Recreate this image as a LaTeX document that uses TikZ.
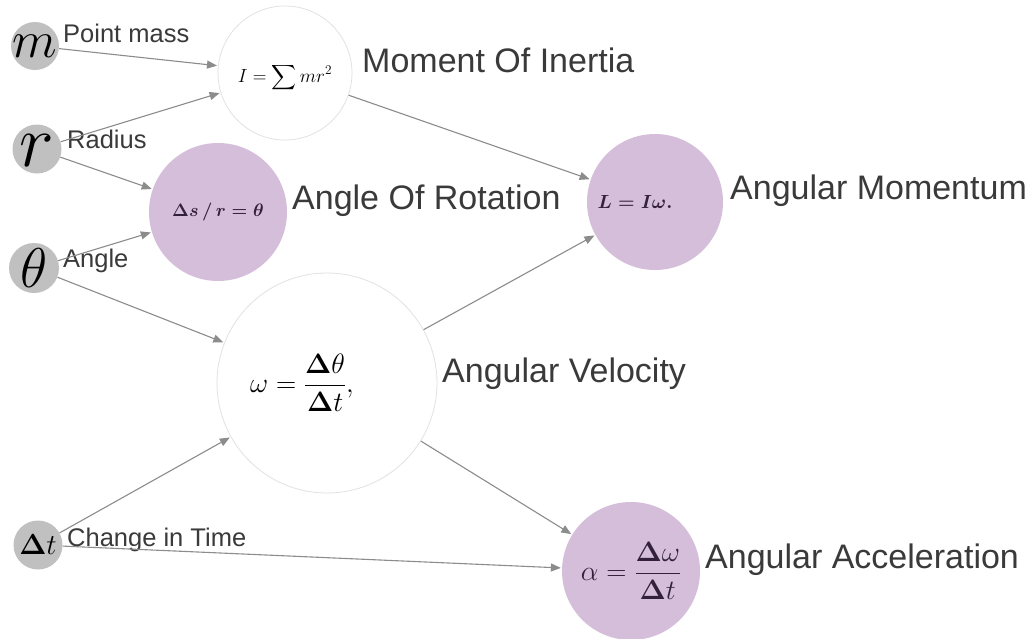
\RequirePackage{fix-cm}
\documentclass[tikz,border=0pt]{standalone}
\usepackage{amsmath}
\usepackage[no-math]{fontspec}
\setmainfont{Liberation Sans}
\usetikzlibrary{arrows.meta}
\definecolor{gfill}{RGB}{192,192,192}
\definecolor{pfill}{RGB}{213,190,217}
\definecolor{wborder}{RGB}{226,226,226}
\definecolor{edgec}{RGB}{140,140,140}
\definecolor{txt}{RGB}{58,58,58}
\definecolor{ftxt}{RGB}{50,32,60}
\begin{document}
\begin{tikzpicture}[x=1pt,y=-1pt,
  var/.style={circle,fill=gfill,inner sep=0pt,minimum size=#1},
  pnode/.style={circle,fill=pfill,inner sep=0pt,minimum size=#1,text=ftxt},
  wnode/.style={circle,fill=white,draw=wborder,line width=0.8pt,inner sep=0pt,minimum size=#1,text=black},
  small/.style={anchor=base west,inner sep=0pt,text=txt,font=\fontsize{25.5}{30}\selectfont},
  big/.style={anchor=base west,inner sep=0pt,text=txt,font=\fontsize{34}{40}\selectfont},
  conn/.style={draw=edgec,line width=1.1pt,-{Triangle[length=10pt,width=8pt]},shorten >=1pt}]
\useasboundingbox[fill=white] (0,0) rectangle (1031,638);

% input variables
\node[var=48pt,label={[inner sep=0pt,font=\fontsize{52}{60}\selectfont]center:$m$}] (m) at (35,46) {};
\node[var=49pt,label={[inner sep=0pt,yshift=-2pt,font=\fontsize{74}{80}\selectfont]center:$r$}] (r) at (37,149) {};
\node[var=50pt,label={[inner sep=0pt,font=\fontsize{56}{60}\selectfont]center:$\theta$}] (th) at (34,268) {};
\node[var=49pt,label={[inner sep=0pt,font=\fontsize{29}{32}\selectfont]center:$\boldsymbol{\Delta} t$}] (dt) at (38,545) {};

% concept nodes
\node[wnode=134pt,label={[inner sep=0pt,yshift=-5pt,font=\fontsize{19}{22}\selectfont]center:$I = \displaystyle\sum mr^2$}] (moi) at (285,73) {};
\node[pnode=138pt,font=\fontsize{18}{22}\selectfont\boldmath] (aor) at (218,212) {$\Delta s\,/\,r = \theta$};
\node[pnode=136pt,label={[inner sep=0pt,xshift=-20pt,text=ftxt,font=\fontsize{19}{22}\selectfont\boldmath]center:$L = I\omega.$}] (am) at (655,202) {};
\node[wnode=220pt,label={[inner sep=0pt,xshift=-25pt,font=\fontsize{28}{32}\selectfont]center:$\omega = \dfrac{\boldsymbol{\Delta}\theta}{\boldsymbol{\Delta} t},$}] (av) at (327,383) {};
\node[pnode=138pt,font=\fontsize{28}{32}\selectfont] (aa) at (631,571) {$\alpha = \dfrac{\boldsymbol{\Delta}\omega}{\boldsymbol{\Delta} t}$};

% labels
\node[small] (lm) at (63,42) {Point mass};
\node[small] (lr) at (67,148) {Radius};
\node[small] (lth) at (63,267) {Angle};
\node[small] (ldt) at (67,546) {Change in Time};
\node[big] (lmoi) at (362,72) {Moment Of Inertia};
\node[big] (laor) at (292,209) {Angle Of Rotation};
\node[big] (lam) at (730,199) {Angular Momentum};
\node[big] (lav) at (442,382) {Angular Velocity};
\node[big] (laa) at (705,568) {Angular Acceleration};

% connectors
\draw[conn] (m) -- (moi);
\draw[conn] (r) -- (moi);
\draw[conn] (r) -- (aor);
\draw[conn] (th) -- (aor);
\draw[conn] (th) -- (av);
\draw[conn] (dt) -- (av);
\draw[conn] (dt) -- (aa);
\draw[conn] (moi) -- (am);
\draw[conn] (av) -- (am);
\draw[conn] (av) -- (aa);
\end{tikzpicture}
\end{document}
